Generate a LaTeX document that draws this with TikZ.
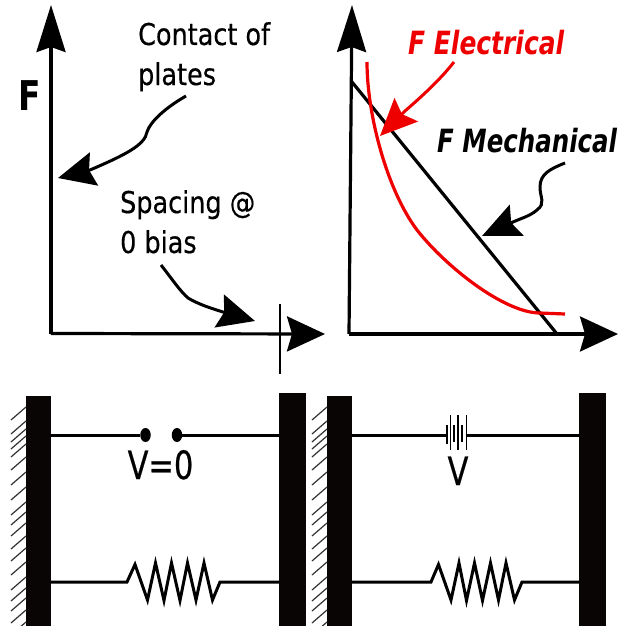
\documentclass[tikz,border=0pt]{standalone}
\usepackage{fontspec}
\setmainfont{DejaVu Sans}
\newfontfamily\thkfont[FakeBold=0.5]{DejaVu Sans}
\usetikzlibrary{arrows.meta,shapes.geometric}
\definecolor{plate}{HTML}{0A0505}
\definecolor{redc}{HTML}{EE0000}
\tikzset{
  axis/.style={line width=3.2pt,line join=miter},
  ytip/.style={-{Stealth[length=47pt,width=29pt,inset=5pt]}},
  xtip/.style={-{Stealth[length=38pt,width=35pt,inset=5pt]}},
  lead/.style={line width=3pt},
  bighead/.style={-{Stealth[length=37pt,width=34pt,inset=5pt]}},
  midhead/.style={-{Stealth[length=38pt,width=34pt,inset=6pt]}},
  lbl/.style={inner sep=0pt,anchor=base west,xscale=.85,font=\fontsize{30}{30}\selectfont\thkfont},
  fbold/.style={inner sep=0pt,anchor=base west,font=\fontsize{32}{32}\selectfont\bfseries\itshape},
  plateb/.style={fill=plate,draw=none},
  wire/.style={line width=3pt},
  hatchl/.style={line width=1.2pt,black!80},
  dotn/.style={fill=black,draw=none,ellipse,minimum width=10.5pt,minimum height=14pt,inner sep=0pt},
  batt/.style={line width=1.3pt},
  volt/.style={inner sep=0pt,anchor=base,xscale=.78,font=\fontsize{39}{39}\selectfont\thkfont}
}
\begin{document}
\begin{tikzpicture}[x=1pt,y=-1pt]
\useasboundingbox (0,0) rectangle (620,626);
\fill[white] (0,0) rectangle (620,626);

% left graph
\coordinate (o1) at (51,333.5);
\coordinate (y1) at (51,5);
\coordinate (x1) at (325,334);
\draw[axis,ytip] (o1) -- (y1);
\draw[axis,xtip] (o1) -- (x1);
\coordinate (t1) at (280,304);
\coordinate (t2) at (280,374);
\draw[line width=2.6pt] (t1) -- (t2);
\node[inner sep=0pt,anchor=base west,xscale=.8,font=\fontsize{41}{41}\selectfont\bfseries] (lblF) at (18,110) {F};
\node[lbl] (contact) at (138,45) {Contact of};
\node[lbl] (plates) at (138,85) {plates};
\node[lbl] (spacing) at (120,213) {Spacing @};
\node[lbl] (bias) at (120,253) {0 bias};
\coordinate (c0) at (186,96);
\coordinate (c1) at (144,142);
\coordinate (c2) at (58,178);
\draw[lead,bighead] (c0) .. controls (165,108) and (150,122) .. (147,132) .. controls (145,145) and (125,155) .. (90,170) -- (c2);
\coordinate (s0) at (161,265);
\coordinate (s1) at (188,298);
\coordinate (s2) at (255,321);
\draw[lead,bighead] (s0) .. controls (172,279) and (180,291) .. (s1) .. controls (198,304) and (210,308) .. (223,312) -- (s2);

% right graph
\coordinate (o2) at (349,334);
\coordinate (y2) at (352,5);
\coordinate (x2) at (618,334);
\draw[axis,ytip] (o2) -- (y2);
\draw[axis,xtip] (o2) -- (x2);
\coordinate (m0) at (352,82);
\coordinate (m1) at (557,334);
\draw[line width=3.2pt] (m0) -- (m1);
\coordinate (e0) at (367,62);
\coordinate (e1) at (565,314);
\draw[redc,line width=3.2pt] (e0) .. controls (367,115) and (387,190) .. (417,230) .. controls (447,268) and (505,313) .. (540,313) -- (e1);
\node[fbold,redc,xscale=.78] (felec) at (408,55) {F Electrical};
\node[fbold,xscale=.765] (fmech) at (437,152) {F Mechanical};
\coordinate (ea) at (454,62);
\coordinate (eb) at (380,136);
\draw[redc,lead,-{Stealth[length=37pt,width=33pt,inset=6pt]}] (ea) .. controls (440,80) and (420,98) .. (405,111) -- (eb);
\coordinate (ma) at (565,163);
\coordinate (mb) at (482,236);
\draw[lead,midhead] (ma) .. controls (550,169) and (540,174) .. (540,187) .. controls (540,198) and (546,203) .. (537,210) .. controls (530,216) and (522,218) .. (513,222) -- (mb);

% plates
\fill[plateb] (26,396) rectangle (51,626);
\fill[plateb] (279,393) rectangle (306,626);
\fill[plateb] (327,396) rectangle (352,626);
\fill[plateb] (579,393) rectangle (606,626);

% hatching
\foreach \dx in {0,301}{
  \foreach \yy in {407,421,429,436,444,457,472,487,502,512,523,536,548,562,577,588,598,610,622}{
    \draw[hatchl] (26+\dx,\yy) -- (11+\dx,\yy+13);
  }
}

% top branches
\node[dotn] (d1) at (145.5,435) {};
\node[dotn] (d2) at (177,435) {};
\coordinate (pl1) at (51,435);
\coordinate (pr1) at (279,435);
\draw[wire] (pl1) -- (d1);
\draw[wire] (d2) -- (pr1);
\node[volt] (v0) at (160.5,479) {V=0};
\coordinate (pl2) at (352,435);
\coordinate (pr2) at (579,435);
\coordinate (b1) at (447,435);
\coordinate (b2) at (467,435);
\draw[wire] (pl2) -- (b1);
\draw[wire] (b2) -- (pr2);
\foreach \xx/\ya/\yb in {447/425/444,450.5/415/450,454/425/442,458/415/450,462/425/442,466.5/415/450}{
  \draw[batt] (\xx,\ya) -- (\xx,\yb);
}
\node[volt] (v1) at (458,485) {V};

% resistors
\coordinate (rl1) at (51,582);
\coordinate (rr1) at (279,582);
\draw[wire,line join=miter] (rl1) -- (127,582) -- (135,564.5) -- (147.5,600) -- (155.5,563) -- (164,600.5) -- (171.5,563) -- (180,600.5) -- (187.5,563) -- (196,600) -- (204,563) -- (212.5,600) -- (220,582) -- (rr1);
\coordinate (rl2) at (352,582);
\coordinate (rr2) at (579,582);
\draw[wire,line join=miter] (rl2) -- (431,582) -- (438.5,564.5) -- (451,600) -- (459,563) -- (466.5,600.5) -- (474.5,563) -- (482.5,600.5) -- (490.5,563) -- (498.5,600) -- (506,563) -- (514.5,600) -- (522,582) -- (rr2);
\end{tikzpicture}
\end{document}
